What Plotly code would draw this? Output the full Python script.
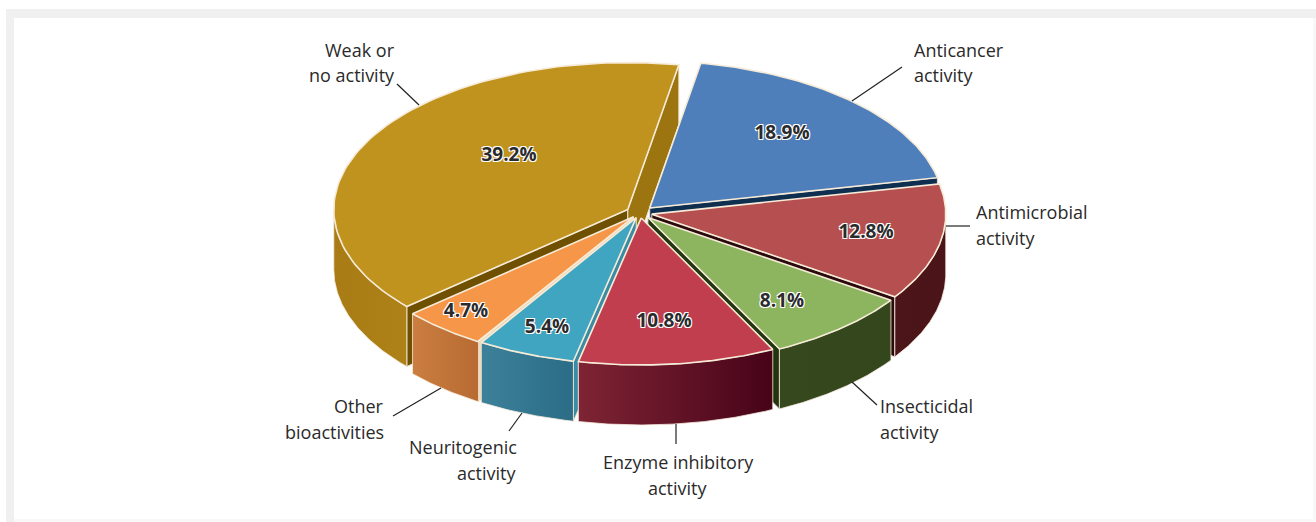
import numpy as np
import plotly.graph_objects as go

categories = ["Anticancer activity", "Antimicrobial activity", "Insecticidal activity",
              "Enzyme inhibitory activity", "Neuritogenic activity", "Other bioactivities",
              "Weak or no activity"]
shares = [18.9, 12.8, 8.1, 10.8, 5.4, 4.7, 39.2]
percent_text = ["18.9%", "12.8%", "8.1%", "10.8%", "5.4%", "4.7%", "39.2%"]

top_colors = ["#4F7FBA", "#B65050", "#8DB55F", "#C03E4E", "#40A5C0", "#F59648", "#C0921E"]
side_left = ["#0F2F50", "#4C1619", "#36491E", "#7E2434", "#3C8199", "#CB7E40", "#A87B14"]
side_right = ["#0F2F50", "#4A1418", "#34471C", "#470318", "#2B6C87", "#B76B32", "#AE8218"]
edge_colors = ["#0F2F50", "#2A0A0C", "#22350F", "#5A1020", "#3A8CA4", "#F1D9B8", "#6E5000"]
end_face = ["#0F2F50", "#2A0A0C", "#22350F", "#5A1020", "#3A8CA4", "#F1D9B8", "#9C7410"]

# layout constants
CX, CY, RX, RY, DEPTH, START = 640.0, 213.0, 294.0, 147.0, 60.0, 10.0
PULL = [14, 12, 12, 10, 10, 10, 14]
PCT_POS = [(782, 134), (866, 233), (782, 302), (664, 322), (547, 328), (466, 312), (509, 156)]
ORDER = [6, 0, 1, 5, 2, 4, 3]
LABELS = [
    (914, 50, "Anticancer"), (914, 75, "activity"),
    (976, 212, "Antimicrobial"), (976, 238, "activity"),
    (880, 406, "Insecticidal"), (880, 432, "activity"),
    (678, 462, "Enzyme inhibitory"), (678, 488, "activity"),
    (517, 447, "Neuritogenic"), (517, 473, "activity"),
    (384, 406, "Other"), (384, 432, "bioactivities"),
    (395, 50, "Weak or"), (395, 75, "no activity"),
]
LABEL_ANCHOR = ["left"] * 6 + ["center"] * 2 + ["right"] * 6
ANCHOR_SHIFT = {"left": -2, "center": 0, "right": 2}
LEADERS = [(852, 101, 902, 67), (946, 226, 970, 226), (852, 382, 877, 405), (676, 424, 676, 444),
           (522, 413, 509, 431), (441, 388, 393, 416), (419, 105, 397, 84)]

fractions = np.array(shares) / sum(shares)
edges = START + np.concatenate([[0], np.cumsum(fractions)]) * 360.0


def pt(theta, r=1.0):
    t = np.radians(theta)
    return RX * r * np.sin(t), -RY * r * np.cos(t)


fig = go.Figure()


def add_poly(x, y, fill, line=None, lw=1.2, grad=None):
    kw = dict(x=list(x), y=list(y), mode="lines", fill="toself", hoverinfo="skip", showlegend=False)
    if line:
        kw["line"] = dict(color=line, width=lw)
    else:
        kw["line"] = dict(width=0)
    if grad:
        kw["fillgradient"] = dict(type="horizontal", colorscale=[[0, grad[0]], [1, grad[1]]])
    else:
        kw["fillcolor"] = fill
    fig.add_trace(go.Scatter(**kw))


for i in ORDER:
    a0, a1 = edges[i], edges[i + 1]
    mid = (a0 + a1) / 2
    ox, oy = pt(mid, PULL[i] / RX)
    ax, ay = CX + ox, CY + oy
    th = np.linspace(a0, a1, 90)
    ex, ey = pt(th)
    ex, ey = ax + ex, ay + ey
    # radial cut faces
    if i == 6:
        faces = [(a0, edge_colors[i]), (a1, end_face[i])]
    elif mid < 180:
        faces = [(a1, edge_colors[i])]
    else:
        faces = [(a0, edge_colors[i])]
    for ang, colour in faces:
        fx, fy = pt(ang)
        add_poly([ax, ax + fx, ax + fx, ax, ax], [ay, ay + fy, ay + fy + DEPTH, ay + DEPTH, ay],
                 colour, "#F3E6CC" if i in (4, 5, 6) else "#E8D8D8", 1)
    # outer wall on the front half
    lo, hi = max(a0, 90.0), min(a1, 270.0)
    if lo < hi:
        wt = np.linspace(lo, hi, 90)
        wx, wy = pt(wt)
        wx, wy = ax + wx, ay + wy
        add_poly(np.r_[wx, wx[::-1], wx[0]], np.r_[wy, wy[::-1] + DEPTH, wy[0]],
                 side_left[i], "#F8EBDD", 0.8, (side_left[i], side_right[i]))
    # top face
    add_poly(np.r_[ax, ex, ax], np.r_[ay, ey, ay], top_colors[i], "#F6EBD8", 1.6)

fig.add_trace(go.Scatter(
    x=[p[0] for p in PCT_POS], y=[p[1] for p in PCT_POS], text=percent_text, mode="text",
    textposition="middle center", hoverinfo="skip", showlegend=False,
    textfont=dict(family="Open Sans", size=19, color="#2B2B2D", weight="bold",
                  shadow="1px 1px 0 #fff, -1px -1px 0 #fff, 1px -1px 0 #fff, -1px 1px 0 #fff"),
))

shapes = [
    dict(type="rect", x0=6, y0=9, x1=1316, y1=522, fillcolor="#F8F8F8", line_width=0, layer="below"),
    dict(type="rect", x0=6, y0=9, x1=1316, y1=18, fillcolor="#F0F0F0", line_width=0, layer="below"),
    dict(type="rect", x0=6, y0=9, x1=14, y1=522, fillcolor="#F0F0F0", line_width=0, layer="below"),
    dict(type="rect", x0=14, y0=18, x1=1313, y1=519, fillcolor="#FFFFFF", line_width=0, layer="below"),
]
for x0, y0, x1, y1 in LEADERS:
    shapes.append(dict(type="line", x0=x0, y0=y0, x1=x1, y1=y1, line=dict(color="#222222", width=1.2)))

annotations = [
    dict(x=x, y=y, text=t, xref="x", yref="y", showarrow=False, xanchor=a, yanchor="middle",
         xshift=ANCHOR_SHIFT[a],
         font=dict(family="Open Sans", size=18, color="#2A2A2A"))
    for (x, y, t), a in zip(LABELS, LABEL_ANCHOR)
]

fig.update_layout(
    width=1316, height=522, margin=dict(l=0, r=0, t=0, b=0), paper_bgcolor="white", plot_bgcolor="rgba(0,0,0,0)",
    xaxis=dict(range=[0, 1316], visible=False, fixedrange=True),
    yaxis=dict(range=[522, 0], visible=False, fixedrange=True),
    shapes=shapes, annotations=annotations, showlegend=False,
)
fig.write_html("out.html", config={"displayModeBar": False}, post_script="document.body.style.margin='0';")
